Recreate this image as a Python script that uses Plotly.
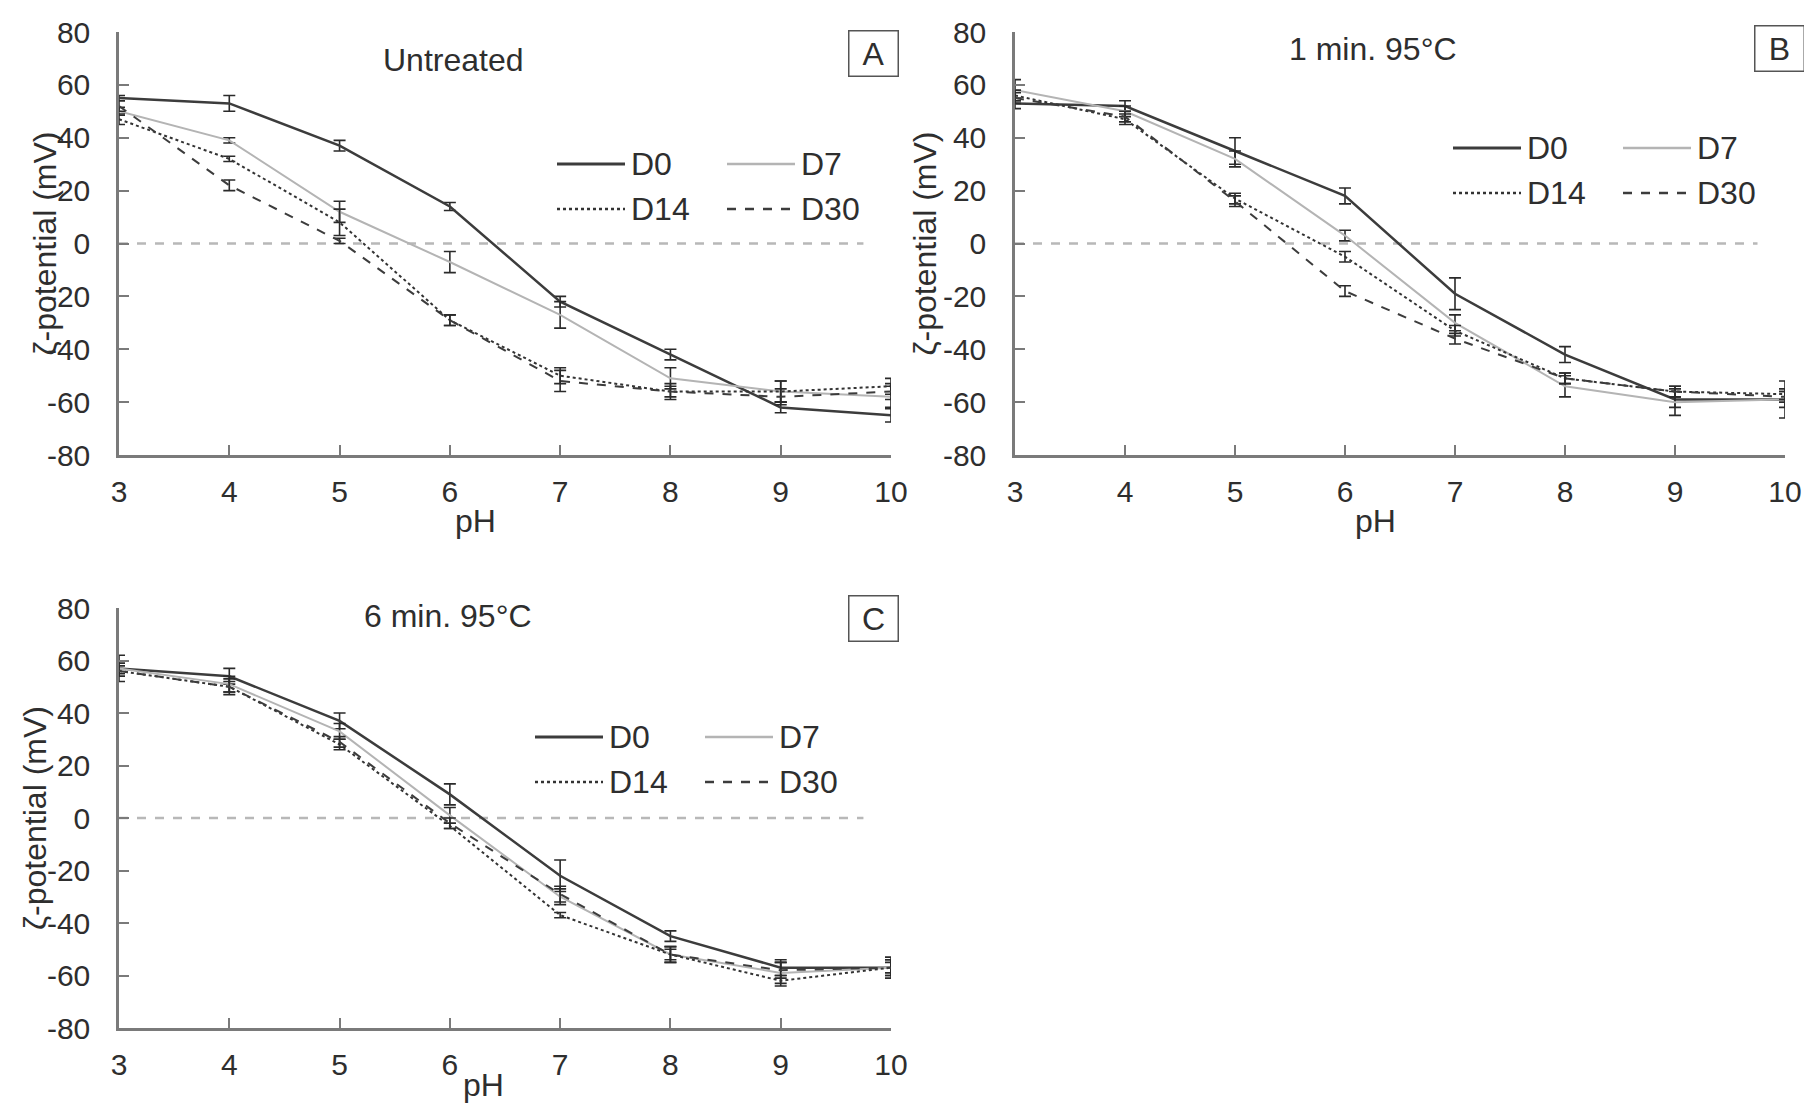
import plotly.graph_objects as go

# pH values (x axis)
ph = [3, 4, 5, 6, 7, 8, 9, 10]
y_ticks = [-80, -60, -40, -20, 0, 20, 40, 60, 80]
y_tick_labels = ["-80", "-60", "-40", "-20", "0", "20", "40", "60", "80"]
series_names = ["D0", "D7", "D14", "D30"]
panel_titles = ["Untreated", "1 min. 95°C", "6 min. 95°C"]
panel_letters = ["A", "B", "C"]

# A - untreated
a_d0 = [55, 53, 37, 14, -22, -42, -62, -65]
a_d7 = [50, 39, 12, -7, -27, -51, -56, -58]
a_d14 = [47, 32, 8, -29, -50, -56, -56, -54]
a_d30 = [52, 22, 1, -29, -52, -56, -58, -56]
a_d0_err = [1, 3, 2, 1.5, 2, 2, 2, 2.5]
a_d7_err = [1.5, 1, 4, 4, 5, 4, 4, 4]
a_d14_err = [2, 1, 5, 2, 3, 3, 4, 3]
a_d30_err = [2, 2, 1, 2, 4, 2, 3, 3]

# B - 1 min 95C
b_d0 = [53, 52, 35, 18, -19, -42, -59, -59]
b_d7 = [58, 50, 32, 3, -30, -54, -60, -59]
b_d14 = [56, 47, 17, -5, -33, -51, -56, -57]
b_d30 = [55, 48, 16, -18, -36, -51, -56, -58]
b_d0_err = [2, 2, 5, 3, 6, 3, 3, 7]
b_d7_err = [4, 2, 3, 2, 3, 4, 5, 3]
b_d14_err = [2, 2, 2, 2, 2, 2, 2, 2]
b_d30_err = [2, 2, 2, 2, 2, 2, 2, 2]

# C - 6 min 95C
c_d0 = [57, 54, 37, 9, -22, -45, -57, -57]
c_d7 = [57, 51, 33, 1, -30, -52, -59, -57]
c_d14 = [56, 50, 28, -3, -37, -52, -62, -57]
c_d30 = [56, 50, 29, -2, -29, -52, -58, -57]
c_d0_err = [2, 3, 3, 4, 6, 2, 3, 3]
c_d7_err = [5, 3, 3, 3, 3, 2, 4, 3]
c_d14_err = [2, 2, 2, 1, 1, 3, 2, 2]
c_d30_err = [2, 3, 2, 2, 3, 3, 3, 4]

# dashed zero reference line extent
zero_x = [3, 9.75]
zero_y = [0, 0]

# page is 1812x1111, html body has an 8px margin
OFF = 8
W, H = 1812 - 2 * OFF, 1111 - 2 * OFF
FONT = "Liberation Sans, Arial, sans-serif"
FS_TICK = 30
FS = 32
TXT = "#2e2e2e"


def px(x):
    return (x - OFF) / W


def py(y):
    return 1 - (y - OFF) / H


styles = {
    "D0": dict(color="#3c3c3c", width=2.5, dash="solid"),
    "D7": dict(color="#b4b4b4", width=2, dash="solid"),
    "D14": dict(color="#333333", width=2, dash="dot"),
    "D30": dict(color="#3c3c3c", width=2, dash="dash"),
}

panel_data = [
    [(a_d0, a_d0_err), (a_d7, a_d7_err), (a_d14, a_d14_err), (a_d30, a_d30_err)],
    [(b_d0, b_d0_err), (b_d7, b_d7_err), (b_d14, b_d14_err), (b_d30, b_d30_err)],
    [(c_d0, c_d0_err), (c_d7, c_d7_err), (c_d14, c_d14_err), (c_d30, c_d30_err)],
]

# page-pixel geometry of each panel: x-axis left/right, y top/bottom
geom = [
    dict(x0=119, x1=891, y0=32, y1=455),
    dict(x0=1015, x1=1785, y0=32, y1=455),
    dict(x0=119, x1=891, y0=608, y1=1028),
]
leg_pos = [(557, 164), (1453, 148), (535, 737)]
title_pos = [(453, 60), (1373, 49), (448, 616)]
box_pos = [(873, 54), (1779, 48), (873, 618)]
ph_pos = [(476, 521), (1375, 521), (483, 1085)]
ytitle_off = [75, 91, 84]

fig = go.Figure()
shapes = []
annotations = []

for i in range(3):
    xa = "x" if i == 0 else "x%d" % (i + 1)
    ya = "y" if i == 0 else "y%d" % (i + 1)
    g = geom[i]

    # zero line
    fig.add_trace(go.Scatter(x=zero_x, y=zero_y, mode="lines", xaxis=xa, yaxis=ya,
                             line=dict(color="#b8b8b8", width=2.5, dash="dash"),
                             showlegend=False, hoverinfo="skip"))

    for name, (vals, errs) in zip(series_names, panel_data[i]):
        st = styles[name]
        fig.add_trace(go.Scatter(
            x=ph, y=vals, mode="lines", name=name, xaxis=xa, yaxis=ya,
            line=dict(color=st["color"], width=st["width"], dash=st["dash"]),
            error_y=dict(type="data", array=errs, visible=True,
                         color="#2a2a2a", thickness=1.6, width=6),
            showlegend=False))

    axis_common = dict(showline=True, linecolor="#7a7a7a", linewidth=2.5,
                       ticks="inside", ticklen=10, tickwidth=2, tickcolor="#7a7a7a",
                       showgrid=False, zeroline=False, automargin=False,
                       tickfont=dict(family=FONT, size=FS_TICK, color=TXT))
    fig.layout[xa.replace("x", "xaxis")] = dict(
        domain=[px(g["x0"]), px(g["x1"])], anchor=ya, range=[3, 10],
        tickvals=ph, ticklabelstandoff=8, **axis_common)
    fig.layout[ya.replace("y", "yaxis")] = dict(
        domain=[py(g["y1"]), py(g["y0"])], anchor=xa, range=[-80, 80],
        tickvals=y_ticks, ticktext=y_tick_labels, ticklabelstandoff=20,
        **axis_common)

    # hand-placed two-column legend
    lx, ly = leg_pos[i]
    for k, name in enumerate(series_names):
        st = styles[name]
        col, row = k % 2, k // 2
        x0 = lx + col * 170
        y0 = ly + row * 45
        shapes.append(dict(type="line", xref="paper", yref="paper",
                           x0=px(x0), x1=px(x0 + 68), y0=py(y0), y1=py(y0),
                           line=dict(color=st["color"], width=st["width"] + 0.5,
                                     dash=st["dash"])))
        annotations.append(dict(x=px(x0 + 72), y=py(y0), xref="paper", yref="paper",
                                text=name, showarrow=False, xanchor="left",
                                yanchor="middle",
                                font=dict(family=FONT, size=FS, color=TXT)))

    tx, ty = title_pos[i]
    annotations.append(dict(x=px(tx), y=py(ty), xref="paper", yref="paper",
                            text=panel_titles[i], showarrow=False,
                            xanchor="center", yanchor="middle",
                            font=dict(family=FONT, size=FS, color=TXT)))
    bx, by = box_pos[i]
    annotations.append(dict(x=px(bx), y=py(by), xref="paper", yref="paper",
                            text=panel_letters[i], showarrow=False,
                            xanchor="center", yanchor="middle",
                            bordercolor="#555555", borderwidth=1.5, borderpad=4,
                            bgcolor="white", width=40,
                            font=dict(family=FONT, size=FS, color=TXT)))
    hx, hy = ph_pos[i]
    annotations.append(dict(x=px(hx), y=py(hy), xref="paper", yref="paper",
                            text="pH", showarrow=False,
                            xanchor="center", yanchor="middle",
                            font=dict(family=FONT, size=FS, color=TXT)))
    annotations.append(dict(x=px(g["x0"] - ytitle_off[i]),
                            y=py((g["y0"] + g["y1"]) / 2),
                            xref="paper", yref="paper", text="ζ-potential (mV)",
                            showarrow=False, textangle=-90,
                            xanchor="center", yanchor="middle",
                            font=dict(family=FONT, size=FS, color=TXT)))

fig.update_layout(template="none", width=W, height=H,
                  margin=dict(l=0, r=0, t=0, b=0, pad=0),
                  paper_bgcolor="white", plot_bgcolor="white",
                  shapes=shapes, annotations=annotations, showlegend=False,
                  font=dict(family=FONT, size=FS, color=TXT))

fig.write_html("out.html")
